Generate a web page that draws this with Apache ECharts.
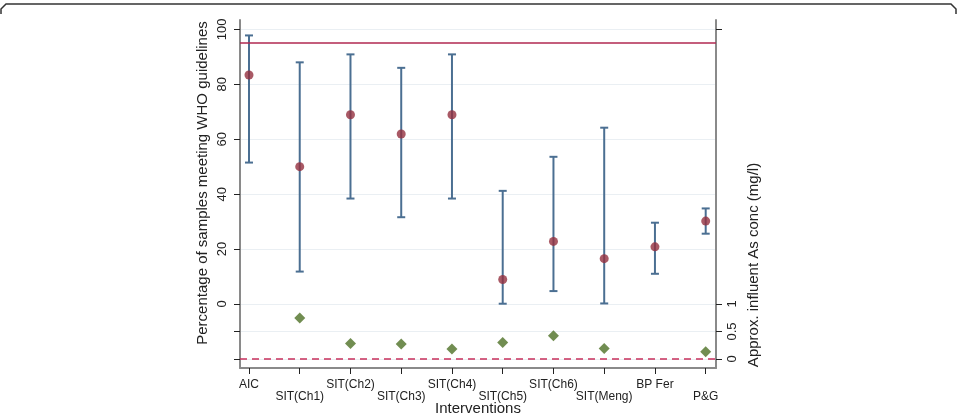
<!DOCTYPE html>
<html>
<head>
<meta charset="utf-8">
<script src="https://cdn.jsdelivr.net/npm/echarts@6/dist/echarts.min.js"></script>
<style>
  html, body { margin: 0; padding: 0; background: #fff; }
  #chart { width: 957px; height: 416px; }
</style>
</head>
<body>
<div id="chart"></div>
<script>
// categories along the x axis
var interventions = ['AIC', 'SIT(Ch1)', 'SIT(Ch2)', 'SIT(Ch3)', 'SIT(Ch4)', 'SIT(Ch5)', 'SIT(Ch6)', 'SIT(Meng)', 'BP Fer', 'P&G'];
// percentage of samples meeting WHO guidelines (mean, lower, upper)
var meanPct = [83.4, 50, 68.9, 61.9, 68.9, 8.9, 22.8, 16.5, 20.8, 30.2];
var lowPct = [51.5, 11.8, 38.4, 31.6, 38.4, 0.1, 4.7, 0.2, 11, 25.6];
var highPct = [97.8, 88, 90.9, 86, 90.9, 41.2, 53.6, 64.2, 29.6, 34.8];
// approx. influent As concentration (mg/l), right axis
var asConc = [null, 0.745, 0.28, 0.27, 0.18, 0.30, 0.42, 0.19, null, 0.13];
// reference lines and tick values
var whoLine = 95;
var leftTicks = [-20, -10, 0, 20, 40, 60, 80, 100];
var leftLabels = [0, 20, 40, 60, 80, 100];
var rightTicks = [0, 0.5, 1, 6];
var rightLabels = [0, 0.5, 1];

var idx = interventions.map(function (c, i) { return i; });
var font = 'Liberation Sans';

var myChart = echarts.init(document.getElementById('chart'));

var option = {
    animation: false,
    backgroundColor: '#fff',
    textStyle: { fontFamily: font },
    graphic: [{
        type: 'polyline',
        shape: { points: [[1, 14], [1, 9], [6, 4], [951, 4], [956, 9], [956, 14]] },
        style: { stroke: '#333', lineWidth: 1.5, fill: null }
    }],
    grid: { left: 240, right: 241, top: 20, bottom: 48, outerBoundsMode: 'none', containLabel: false },
    xAxis: {
        type: 'value',
        min: -0.177,
        max: 9.203,
        name: 'Interventions',
        nameLocation: 'middle',
        nameGap: 33,
        nameMoveOverlap: false,
        nameTextStyle: { fontSize: 15, color: '#222' },
        axisLine: { onZero: false, lineStyle: { color: '#8a8a8a', width: 2 } },
        axisTick: { customValues: idx, length: 6, lineStyle: { color: '#222' } },
        axisLabel: {
            customValues: idx,
            margin: 11,
            fontSize: 12,
            color: '#222',
            lineHeight: 12,
            formatter: function (v) {
                var i = Math.round(v);
                return i % 2 ? '\n' + interventions[i] : interventions[i];
            }
        },
        splitLine: { show: false }
    },
    yAxis: [{
        type: 'value',
        min: -23.31,
        max: 103.42,
        name: 'Percentage of samples meeting WHO guidelines',
        nameLocation: 'middle',
        nameRotate: 90,
        nameGap: 30,
        nameMoveOverlap: false,
        nameTextStyle: { fontSize: 15, color: '#222', padding: [0, 0, 0, 22] },
        axisLine: { show: true, onZero: false, lineStyle: { color: '#8a8a8a', width: 2 } },
        axisTick: { show: true, customValues: leftTicks, length: 6, lineStyle: { color: '#222' } },
        axisLabel: { customValues: leftLabels, rotate: 90, margin: 11, fontSize: 13, color: '#222' },
        splitLine: { show: true, lineStyle: { color: '#eaeff3', width: 1 } }
    }, {
        type: 'value',
        position: 'right',
        min: -0.1655,
        max: 6.171,
        name: 'Approx. influent As conc (mg/l)',
        nameLocation: 'middle',
        nameRotate: 90,
        nameGap: 30,
        nameMoveOverlap: false,
        nameTextStyle: { fontSize: 15, color: '#222', padding: [0, 142, 0, 0] },
        axisLine: { show: true, onZero: false, lineStyle: { color: '#8a8a8a', width: 2 } },
        axisTick: { show: true, customValues: rightTicks, length: 6, lineStyle: { color: '#222' } },
        axisLabel: { customValues: rightLabels, rotate: 90, margin: 10, fontSize: 13, color: '#222' },
        splitLine: { show: false }
    }],
    series: [{
        type: 'custom',
        name: 'range',
        yAxisIndex: 0,
        data: idx.map(function (i) { return [i, lowPct[i], highPct[i]]; }),
        renderItem: function (params, api) {
            var lo = api.coord([api.value(0), api.value(1)]);
            var hi = api.coord([api.value(0), api.value(2)]);
            var w = 4;
            var st = { stroke: '#4b6f92', lineWidth: 2 };
            return {
                type: 'group',
                children: [
                    { type: 'line', shape: { x1: lo[0], y1: lo[1], x2: hi[0], y2: hi[1] }, style: st },
                    { type: 'line', shape: { x1: lo[0] - w, y1: lo[1], x2: lo[0] + w, y2: lo[1] }, style: st },
                    { type: 'line', shape: { x1: hi[0] - w, y1: hi[1], x2: hi[0] + w, y2: hi[1] }, style: st }
                ]
            };
        },
        markLine: {
            silent: true,
            symbol: 'none',
            label: { show: false },
            data: [
                { yAxis: whoLine, lineStyle: { color: '#b02850', width: 1.5, type: 'solid' } },
                { yAxis: -20, lineStyle: { color: '#c8305c', width: 1.5, type: [7, 5] } }
            ]
        },
        z: 2
    }, {
        type: 'scatter',
        name: 'mean',
        yAxisIndex: 0,
        symbol: 'circle',
        symbolSize: 9,
        itemStyle: { color: '#93303e' },
        data: idx.map(function (i) { return [i, meanPct[i]]; }),
        z: 3
    }, {
        type: 'scatter',
        name: 'As',
        yAxisIndex: 1,
        symbol: 'diamond',
        symbolSize: 11,
        itemStyle: { color: '#4e7026' },
        data: idx.filter(function (i) { return asConc[i] !== null; })
                 .map(function (i) { return [i, asConc[i]]; }),
        z: 3
    }]
};

myChart.setOption(option);
</script>
</body>
</html>
